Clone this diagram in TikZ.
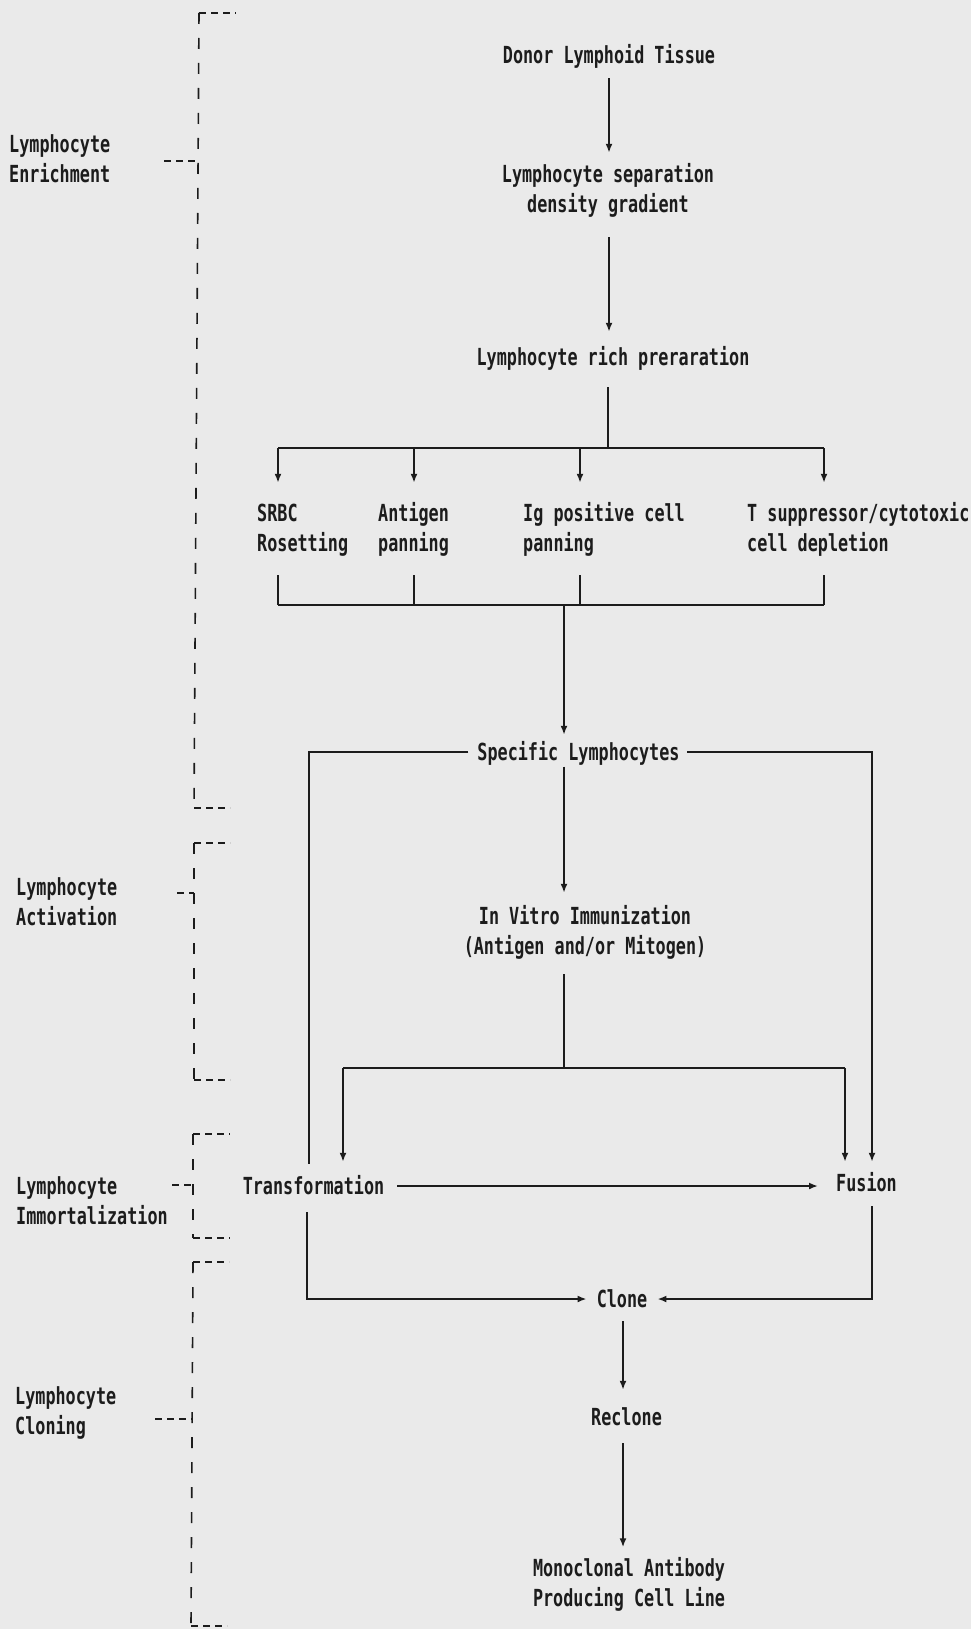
\documentclass[tikz,border=0pt]{standalone}
\usepackage{fontspec}
\newfontfamily\dm[FakeStretch=0.714]{DejaVu Sans Mono}
\usetikzlibrary{arrows.meta}
\definecolor{bg}{RGB}{234,234,234}
\definecolor{ink}{RGB}{28,28,28}
\newcommand\st{\rule[-6pt]{0pt}{29pt}}
\begin{document}
\begin{tikzpicture}[x=1pt,y=-1pt,
  txt/.style={inner sep=0pt, text=ink, font=\dm\bfseries\fontsize{23.5}{30}\selectfont, align=center},
  lft/.style={txt, align=left, anchor=west},
  ln/.style={draw=ink, line width=1.8pt},
  arr/.style={ln, -{Latex[length=9pt,width=7pt]}},
  vdash/.style={draw=ink, line width=1.6pt, dash pattern=on 11pt off 14pt},
  hdash/.style={draw=ink, line width=1.6pt, dash pattern=on 7pt off 5pt}]
\path[use as bounding box, fill=bg] (0,0) rectangle (971,1629);

% ---- stage labels and brackets
\node[lft] (enr) at (9,159) {Lymphocyte\st\\Enrichment\st};
\node[lft] (act) at (16,902) {Lymphocyte\st\\Activation\st};
\node[lft] (imm) at (16,1201) {Lymphocyte\st\\Immortalization\st};
\node[lft] (clo) at (15,1411) {Lymphocyte\st\\Cloning\st};

\path[vdash] (199,13) -- (194,808);
\path[hdash] (199,13) -- (236,13);
\path[hdash] (194,808) -- (230,808);
\path[hdash] (164,161) -- (198,161);

\path[vdash] (194,843) -- (194,1080);
\path[hdash] (194,843) -- (230,843);
\path[hdash] (194,1080) -- (230,1080);
\path[hdash] (177,893) -- (194,893);

\path[vdash] (193,1134) -- (193,1238);
\path[hdash] (193,1134) -- (230,1134);
\path[hdash] (193,1238) -- (230,1238);
\path[hdash] (172,1185) -- (193,1185);

\path[vdash] (193,1262) -- (191,1626);
\path[hdash] (193,1262) -- (229,1262);
\path[hdash] (191,1626) -- (227,1626);
\path[hdash] (155,1419) -- (192,1419);

% ---- flow nodes
\node[txt] (donor) at (609,55) {Donor Lymphoid Tissue\st};
\node[txt] (sep) at (608,189) {Lymphocyte separation\st\\density gradient\st};
\node[txt] (rich) at (613,357) {Lymphocyte rich preraration\st};
\node[lft] (srbc) at (257,528) {SRBC\st\\Rosetting\st};
\node[lft] (antigen) at (378,528) {Antigen\st\\panning\st};
\node[lft] (ig) at (523,528) {Ig positive cell\st\\panning\st};
\node[lft] (tsup) at (747,528) {T suppressor/cytotoxic\st\\cell depletion\st};
\node[txt] (spec) at (578.5,752) {Specific Lymphocytes\st};
\node[txt] (vitro) at (585,931) {In Vitro Immunization\st\\(Antigen and/or Mitogen)\st};
\node[txt] (trans) at (313.5,1186) {Transformation\st};
\node[txt] (fusion) at (866.5,1183) {Fusion\st};
\node[txt] (clone) at (622,1299) {Clone\st};
\node[txt] (reclone) at (626.5,1417) {Reclone\st};
\node[txt] (mono) at (629,1582.5) {Monoclonal Antibody\st\\Producing Cell Line\st};

% ---- helper coordinates
\coordinate (xa) at (609,0);
\coordinate (b1) at (608,448);
\coordinate (c1) at (278,448);
\coordinate (c2) at (414,448);
\coordinate (c3) at (580,448);
\coordinate (c4) at (824,448);
\coordinate (d1) at (278,605);
\coordinate (d2) at (414,605);
\coordinate (d3) at (580,605);
\coordinate (d4) at (824,605);
\coordinate (mx) at (564,605);
\coordinate (e0) at (564,1068);
\coordinate (e1) at (343,1068);
\coordinate (e2) at (845,1068);
\coordinate (fl) at (309,0);
\coordinate (fr) at (872,0);
\coordinate (gl) at (307,0);
\coordinate (cx) at (623,0);

% ---- connectors
\draw[arr, shorten <=8.5pt, shorten >=6.5pt] (donor.south -| xa) -- (sep.north -| xa);
\draw[arr, shorten <=18.5pt, shorten >=10.5pt] (sep.south -| xa) -- (rich.north -| xa);
\draw[ln, shorten <=15.5pt] (rich.south -| b1) -- (b1);
\draw[ln] (c1) -- (c4);
\draw[arr, shorten >=15.5pt] (c1) -- (srbc.north -| c1);
\draw[arr, shorten >=15.5pt] (c2) -- (antigen.north -| c2);
\draw[arr, shorten >=15.5pt] (c3) -- (ig.north -| c3);
\draw[arr, shorten >=15.5pt] (c4) -- (tsup.north -| c4);
\draw[ln, shorten <=17.5pt] (srbc.south -| d1) -- (d1);
\draw[ln, shorten <=17.5pt] (antigen.south -| d2) -- (d2);
\draw[ln, shorten <=17.5pt] (ig.south -| d3) -- (d3);
\draw[ln, shorten <=17.5pt] (tsup.south -| d4) -- (d4);
\draw[ln] (d1) -- (d4);
\draw[arr, shorten >=2.5pt] (mx) -- (spec.north -| mx);
\draw[arr, shorten >=8.5pt] (spec.south -| mx) -- (vitro.north -| mx);
\draw[ln, shorten <=13.5pt] (vitro.south -| e0) -- (e0);
\draw[ln] (e1) -- (e2);
\draw[arr, shorten >=9.5pt] (e1) -- (trans.north -| e1);
\draw[arr, shorten >=6.5pt] (e2) -- (fusion.north -| e2);
\draw[ln, shorten <=9pt, shorten >=7.5pt] (spec.west) -| (trans.north -| fl);
\draw[arr, shorten <=7.5pt, shorten >=6.5pt] (spec.east) -| (fusion.north -| fr);
\draw[arr, shorten <=13pt, shorten >=18pt] (trans.east) -- (fusion.west |- trans.east);
\draw[arr, shorten <=11.5pt, shorten >=10pt] (trans.south -| gl) |- (clone.west);
\draw[arr, shorten <=8.5pt, shorten >=10pt] (fusion.south -| fr) |- (clone.east);
\draw[arr, shorten <=7.5pt, shorten >=12.5pt] (clone.south -| cx) -- (reclone.north -| cx);
\draw[arr, shorten <=11.5pt, shorten >=5.5pt] (reclone.south -| cx) -- (mono.north -| cx);
\end{tikzpicture}
\end{document}
